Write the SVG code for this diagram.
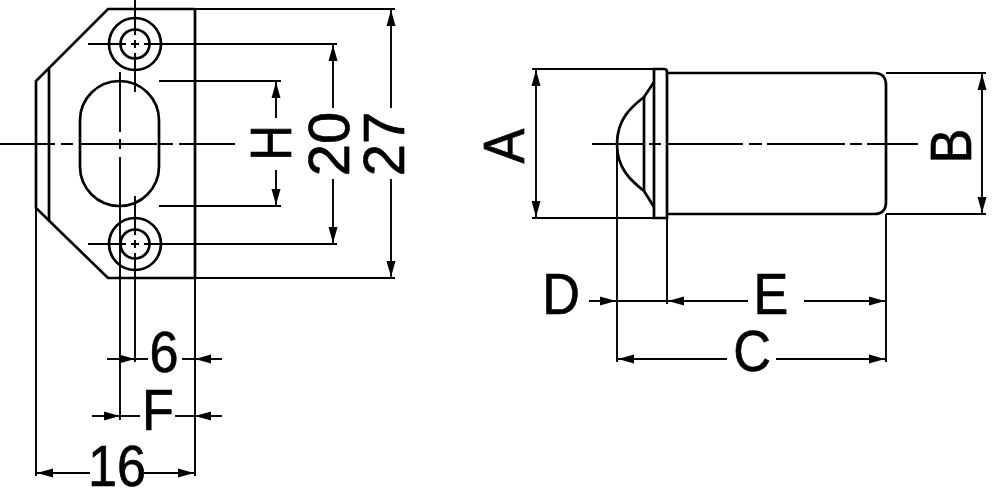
<svg xmlns="http://www.w3.org/2000/svg" width="1000" height="500" viewBox="0 0 1000 500">
<defs>
<marker id="a" markerUnits="userSpaceOnUse" markerWidth="18" markerHeight="12" refX="16" refY="6" orient="auto-start-reverse"><path d="M0 1.500L16 6L0 10.500Z" fill="#000"/></marker>
</defs>
<style>
.o{fill:none;stroke:#000;stroke-width:2.700}
.t{fill:none;stroke:#000;stroke-width:1.900}
.d{fill:none;stroke:#000;stroke-width:1.900;marker-end:url(#a)}
.b{fill:none;stroke:#000;stroke-width:1.900;marker-start:url(#a);marker-end:url(#a)}
.l{font-family:"Liberation Sans",Arial,sans-serif;font-size:58px;fill:#000;stroke:#000;stroke-width:.7;text-anchor:middle}
</style>
<rect width="1000" height="500" fill="#fff"/>
<g id="front-view">
<path class="o" d="M195 9H108L36 81V208L108 278H195"/>
<path class="o" d="M195 9V278"/>
<path class="o" d="M49 69V220"/>
<rect class="o" x="80" y="81" width="79" height="125" rx="39.500" ry="39.500"/>
<circle class="o" cx="135" cy="44" r="26"/>
<circle class="o" cx="135" cy="44" r="14.500"/>
<circle class="o" cx="135" cy="244" r="26"/>
<circle class="o" cx="135" cy="244" r="14.500"/>
</g>
<g id="side-view">
<path class="o" d="M667 73H874Q886 73 886 85V202Q886 214 874 214H667"/>
<path class="o" d="M654 69H664Q667 69 667 72V218H654Z"/>
<path class="o" d="M654 82L644 97C630 108 617 120 617 144C617 168 630 180 644 191L654 207"/>
<path class="o" d="M644 97V191"/>
</g>
<g id="connectors">
<path class="t" d="M0 144H55M61 144H73M79 144H157M160 144H173M179 144H235"/>
<path class="t" d="M135 0V35M135 40V48M135 53V92M88 44H126M131 44H139M144 44H337"/>
<path class="t" d="M135 196V235M135 240V248M135 253V362M88 244H126M131 244H139M144 244H337"/>
<path class="t" d="M120 72V132M120 139V149M120 157V420"/>
<path class="t" d="M159 81H281M159 206H281"/>
<path class="t" d="M195 9H395M108 278H395"/>
<path class="t" d="M36 208V476M195 278V476"/>
<path class="d" d="M276 118V82"/><path class="d" d="M276 170V205"/>
<path class="d" d="M333 108V45"/><path class="d" d="M333 179V243"/>
<path class="d" d="M391 108V10"/><path class="d" d="M391 179V277"/>
<path class="d" d="M107 359H135"/><path class="t" d="M135 359H148"/><path class="d" d="M222 359H195"/><path class="t" d="M182 359H195"/>
<path class="d" d="M92 416H120"/><path class="t" d="M120 416H140"/><path class="d" d="M222 416H195"/><path class="t" d="M175 416H195"/>
<path class="d" d="M90 473H37"/><path class="d" d="M144 473H194"/>
<path class="t" d="M532 69H654M532 218H654"/>
<path class="b" d="M536 70V217"/>
<path class="t" d="M592 144H645M649 144H661M667 144H743M749 144H762M767 144H845M850 144H862M867 144H918"/>
<path class="t" d="M886 73H986M886 214H986"/>
<path class="b" d="M982 74V213"/>
<path class="t" d="M617 144V362M667 218V304M886 214V362"/>
<path class="d" d="M589 301H616"/><path class="t" d="M617 301H667"/>
<path class="d" d="M748 301H668"/><path class="d" d="M804 301H885"/>
<path class="d" d="M727 359H618"/><path class="d" d="M776 359H885"/>
</g>
<g id="labels">
<text class="l" transform="translate(164 372) scale(.9 1)">6</text>
<text class="l" transform="translate(158 430) scale(.9 1)">F</text>
<text class="l" transform="translate(117 486) scale(.9 1)">16</text>
<text class="l" transform="translate(561 314) scale(.9 1)">D</text>
<text class="l" transform="translate(771 314) scale(.9 1)">E</text>
<text class="l" transform="translate(752 371) scale(.9 1)">C</text>
<text class="l" transform="translate(291 143) rotate(-90) scale(.85 1)">H</text>
<text class="l" transform="translate(349 144) rotate(-90)">20</text>
<text class="l" transform="translate(404 144) rotate(-90)">27</text>
<text class="l" transform="translate(524 146) rotate(-90) scale(.9 1)">A</text>
<text class="l" transform="translate(971 146) rotate(-90) scale(.9 1)">B</text>
</g>
</svg>
